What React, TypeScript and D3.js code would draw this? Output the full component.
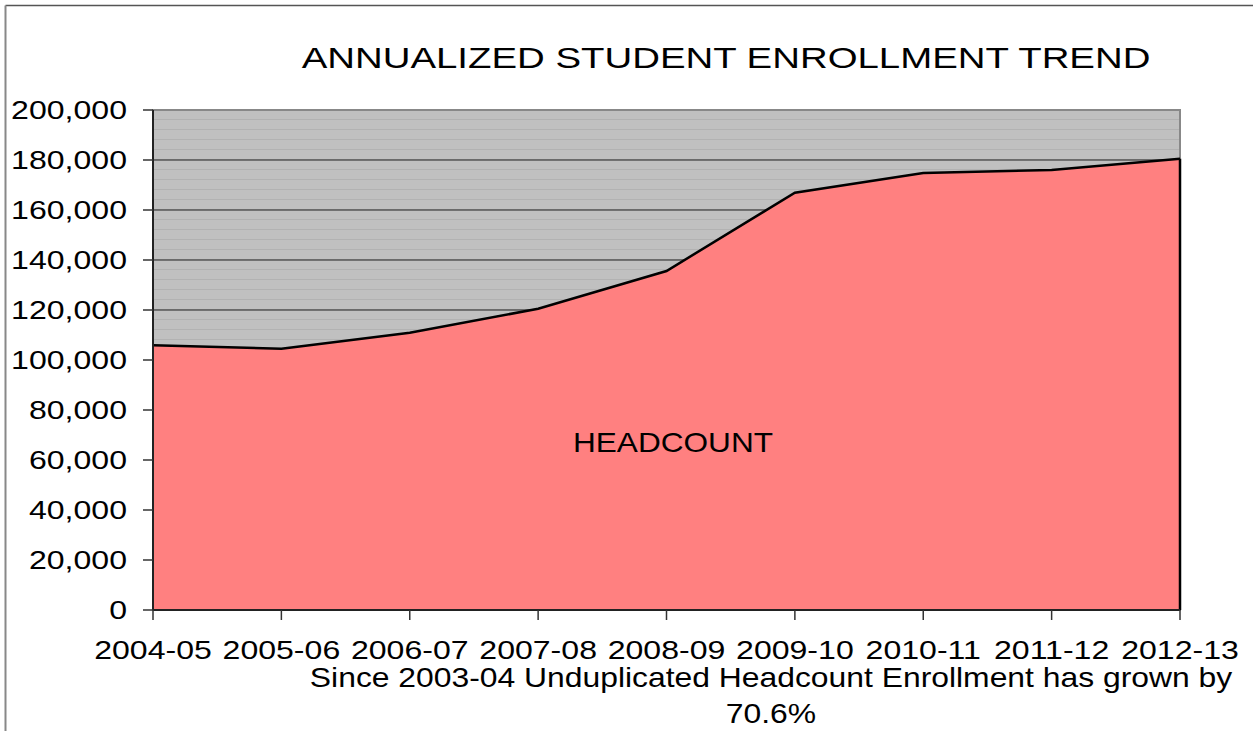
import * as d3 from "d3";

const years = [
  "2004-05",
  "2005-06",
  "2006-07",
  "2007-08",
  "2008-09",
  "2009-10",
  "2010-11",
  "2011-12",
  "2012-13",
];
const headcount = [
  105900, 104500, 110900, 120500, 135600, 166900, 174800, 176000, 180500,
];
const yTicks = [
  0, 20000, 40000, 60000, 80000, 100000, 120000, 140000, 160000, 180000,
  200000,
];

// the source image is stretched sideways, so text gets a horizontal scale
function Label({
  x,
  y,
  sx,
  size,
  anchor,
  children,
}: {
  x: number;
  y: number;
  sx: number;
  size: number;
  anchor: "start" | "middle" | "end";
  children: React.ReactNode;
}) {
  return (
    <text
      transform={`translate(${x},${y}) scale(${sx},1)`}
      textAnchor={anchor}
      fontSize={size}
      fill="#000"
    >
      {children}
    </text>
  );
}

function App() {
  const width = 1253;
  const height = 731;
  const marginLeft = 153;
  const marginRight = 73;
  const marginTop = 110;
  const plotBottom = 610;
  const font = "'Liberation Sans', Arial, sans-serif";

  const x = d3
    .scalePoint()
    .domain(years)
    .range([marginLeft, width - marginRight]);
  const y = d3.scaleLinear().domain([0, 200000]).range([plotBottom, marginTop]);

  const data = years.map((yr, i) => ({ yr, v: headcount[i] }));
  const area = d3
    .area<{ yr: string; v: number }>()
    .x((d) => x(d.yr)!)
    .y0(y(0))
    .y1((d) => y(d.v));
  const line = d3
    .line<{ yr: string; v: number }>()
    .x((d) => x(d.yr)!)
    .y((d) => y(d.v));

  const fmt = d3.format(",");
  const x0 = marginLeft;
  const x1 = width - marginRight;

  return (
    <svg
      width={width}
      height={height}
      style={{ position: "absolute", left: 0, top: 0, background: "#fff" }}
      fontFamily={font}
    >
      <defs>
        <pattern
          id="hatch"
          patternUnits="userSpaceOnUse"
          width={10}
          height={10}
          y={marginTop}
        >
          <rect width={10} height={10} fill="#c0c0c0" />
          <rect y={9} width={10} height={1.5} fill="#b2b2b2" />
        </pattern>
      </defs>
      {/* outer frame */}
      <line x1={5.5} y1={5.5} x2={width} y2={5.5} stroke="#555" strokeWidth={1.5} />
      <line x1={5.5} y1={5.5} x2={5.5} y2={height} stroke="#888" strokeWidth={2} />

      <Label x={726} y={68} sx={1.28} size={30} anchor="middle">
        ANNUALIZED STUDENT ENROLLMENT TREND
      </Label>

      {/* plot background */}
      <rect
        x={x0}
        y={marginTop}
        width={x1 - x0}
        height={plotBottom - marginTop}
        fill="url(#hatch)"
        stroke="#888"
        strokeWidth={2}
      />
      {yTicks.slice(1, -1).map((t) => (
        <line
          key={t}
          x1={x0}
          x2={x1}
          y1={y(t)}
          y2={y(t)}
          stroke="#222"
          strokeWidth={1}
        />
      ))}

      <path d={area(data)!} fill="#ff8080" />
      <path d={line(data)!} fill="none" stroke="#000" strokeWidth={2.5} />
      <line x1={x1} x2={x1} y1={y(headcount[headcount.length - 1])} y2={plotBottom} stroke="#000" strokeWidth={2.5} />

      {/* axes */}
      <line x1={x0} x2={x0} y1={marginTop} y2={plotBottom} stroke="#222" strokeWidth={2} />
      <line x1={x0} x2={x1} y1={plotBottom} y2={plotBottom} stroke="#222" strokeWidth={2} />
      {yTicks.map((t) => (
        <g key={t}>
          <line x1={x0 - 10} x2={x0} y1={y(t)} y2={y(t)} stroke="#333" strokeWidth={1.5} />
          <Label x={127} y={y(t) + 9} sx={1.21} size={26.5} anchor="end">
            {fmt(t)}
          </Label>
        </g>
      ))}
      {years.map((yr) => (
        <g key={yr}>
          <line
            x1={x(yr)}
            x2={x(yr)}
            y1={plotBottom}
            y2={plotBottom + 10}
            stroke="#333"
            strokeWidth={1.5}
          />
          <Label x={x(yr)!} y={659} sx={1.21} size={26.5} anchor="middle">
            {yr}
          </Label>
        </g>
      ))}

      <Label x={673} y={452} sx={1.17} size={27} anchor="middle">
        HEADCOUNT
      </Label>

      <Label x={771} y={687} sx={1.18} size={27} anchor="middle">
        Since 2003-04 Unduplicated Headcount Enrollment has grown by
      </Label>
      <Label x={771} y={723} sx={1.18} size={27} anchor="middle">
        70.6%
      </Label>
    </svg>
  );
}

export default App;
